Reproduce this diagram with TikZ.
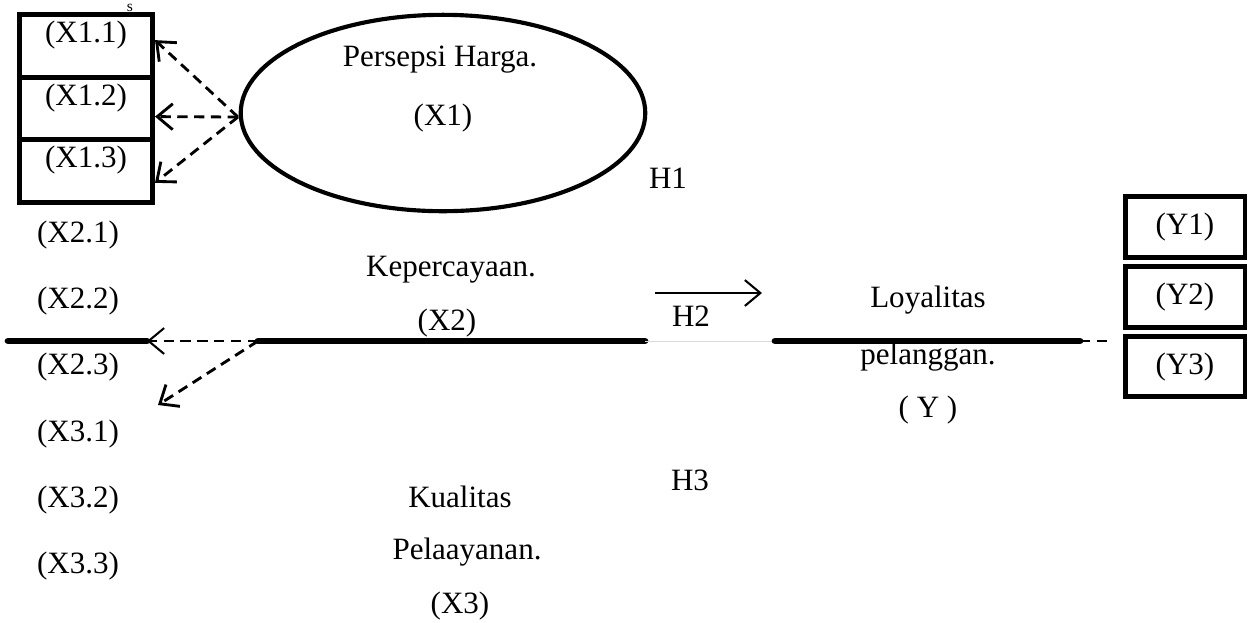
\documentclass[tikz,border=0pt]{standalone}
\usepackage{fontspec}
\setmainfont{Liberation Serif}
\usetikzlibrary{shapes.geometric, arrows.meta}
\tikzstyle{Latent} = [ellipse,
                      minimum width=5.5cm,
                      minimum height=2.67cm,
                      line width=1.6pt,
                      draw=black]
\tikzstyle{Indicator} = [rectangle,
                         minimum width=1.81cm,
                         minimum height=0.85cm,
                         line width=1.9pt,
                         draw=black]
\tikzstyle{Indicator_Y} = [rectangle,
                           minimum width=1.63cm,
                           minimum height=0.82cm,
                           line width=1.9pt,
                           draw=black]
\tikzstyle{Txt} = [inner sep=0pt]
\tikzstyle{Flat} = [line width=2.6pt, line cap=round]
\tikzstyle{Dash_Arrow} = [line width=1.1pt,
                          dash pattern=on 4pt off 2.5pt,
                          -{Straight Barb[length=6pt,width=10pt]}]
\tikzstyle{Solid_Arrow} = [line width=0.8pt,
                           -{Straight Barb[length=6pt,width=10pt]}]

\begin{document}
\begin{tikzpicture}[x=0.0136cm, y=-0.0136cm, font=\fontsize{12}{14}\selectfont]
        \useasboundingbox (0,0) rectangle (1260,622);

        % Persepsi Harga
        \node (X1) [Latent] at (443,113) {};
        \node (X1_T1) [Txt] at (440,60) {Persepsi Harga.};
        \node (X1_T2) [Txt] at (443,118) {(X1)};
        \coordinate (X1_src) at (238,117);
        \node (S_mark) [Txt, anchor=base, font=\fontsize{6}{6}\selectfont] at (130,11) {s};

        \node (X1_1) [Indicator, label={[anchor=north]north:{(X1.1)}}] at (86,46) {};
        \node (X1_2) [Indicator, below of=X1_1, yshift=0.15cm, label={[anchor=north]north:{(X1.2)}}] {};
        \node (X1_3) [Indicator, below of=X1_2, yshift=0.15cm, label={[anchor=north]north:{(X1.3)}}] {};

        \draw [Dash_Arrow] (X1_src) -- ([yshift=0.08cm]X1_1.east);
        \draw [Dash_Arrow] (X1_src) -- ([yshift=-0.11cm]X1_2.east);
        \draw [Dash_Arrow] (X1_src) -- ([yshift=-0.16cm]X1_3.east);

        % Kepercayaan
        \node (X2_1) [Txt] at (78,235) {(X2.1)};
        \node (X2_2) [Txt, below of=X2_1, yshift=0.1cm] {(X2.2)};
        \node (X2_3) [Txt, below of=X2_2, yshift=0.1cm] {(X2.3)};
        \node (X2_T1) [Txt] at (451,270) {Kepercayaan.};
        \node (X2_T2) [Txt] at (447,323) {(X2)};

        \coordinate (X2_w) at (258,341);
        \coordinate (X2_e) at (645,341);
        \coordinate (L_w) at (8,341);
        \coordinate (L_e) at (147,341);
        \coordinate (X2_tip) at (158,405);
        \draw [Flat] (X2_w) -- (X2_e);
        \draw [Flat] (L_w) -- (L_e);
        \draw [Dash_Arrow, line width=0.8pt] (X2_w) -- (L_e);
        \draw [Dash_Arrow] (X2_w) -- (X2_tip);

        % Kualitas Pelayanan
        \node (X3_1) [Txt, below of=X2_3, yshift=0.1cm] {(X3.1)};
        \node (X3_2) [Txt, below of=X3_1, yshift=0.1cm] {(X3.2)};
        \node (X3_3) [Txt, below of=X3_2, yshift=0.1cm] {(X3.3)};
        \node (X3_T1) [Txt] at (460,497) {Kualitas};
        \node (X3_T2) [Txt] at (467,552) {Pelaayanan.};
        \node (X3_T3) [Txt] at (460,606) {(X3)};

        % hipotesis
        \node (H1) [Txt] at (668,178) {H1};
        \node (H2) [Txt] at (691,316) {H2};
        \node (H3) [Txt] at (690,480) {H3};
        \coordinate (H2_a) at (655,293);
        \coordinate (H2_b) at (762,293);
        \draw [Solid_Arrow] (H2_a) -- (H2_b);

        % Loyalitas
        \coordinate (Y_w) at (775,341);
        \coordinate (Y_e) at (1080,341);
        \coordinate (Y_d) at (1110,341);
        \draw [black!15, line width=0.3pt] (X2_e) -- (Y_w);
        \draw [Flat] (Y_w) -- (Y_e);
        \draw [line width=1pt, dash pattern=on 4pt off 2.5pt] (Y_e) -- (Y_d);
        \node (Y_T1) [Txt] at (928,300) {Loyalitas};
        \node (Y_T2) [Txt] at (928,357) {pelanggan.};
        \node (Y_T3) [Txt] at (928,410) {( Y )};

        \node (Y1) [Indicator_Y] at (1185,227) {(Y1)};
        \node (Y2) [Indicator_Y, below of=Y1, yshift=0.05cm] {(Y2)};
        \node (Y3) [Indicator_Y, below of=Y2, yshift=0.05cm] {(Y3)};
    \end{tikzpicture}
\end{document}
